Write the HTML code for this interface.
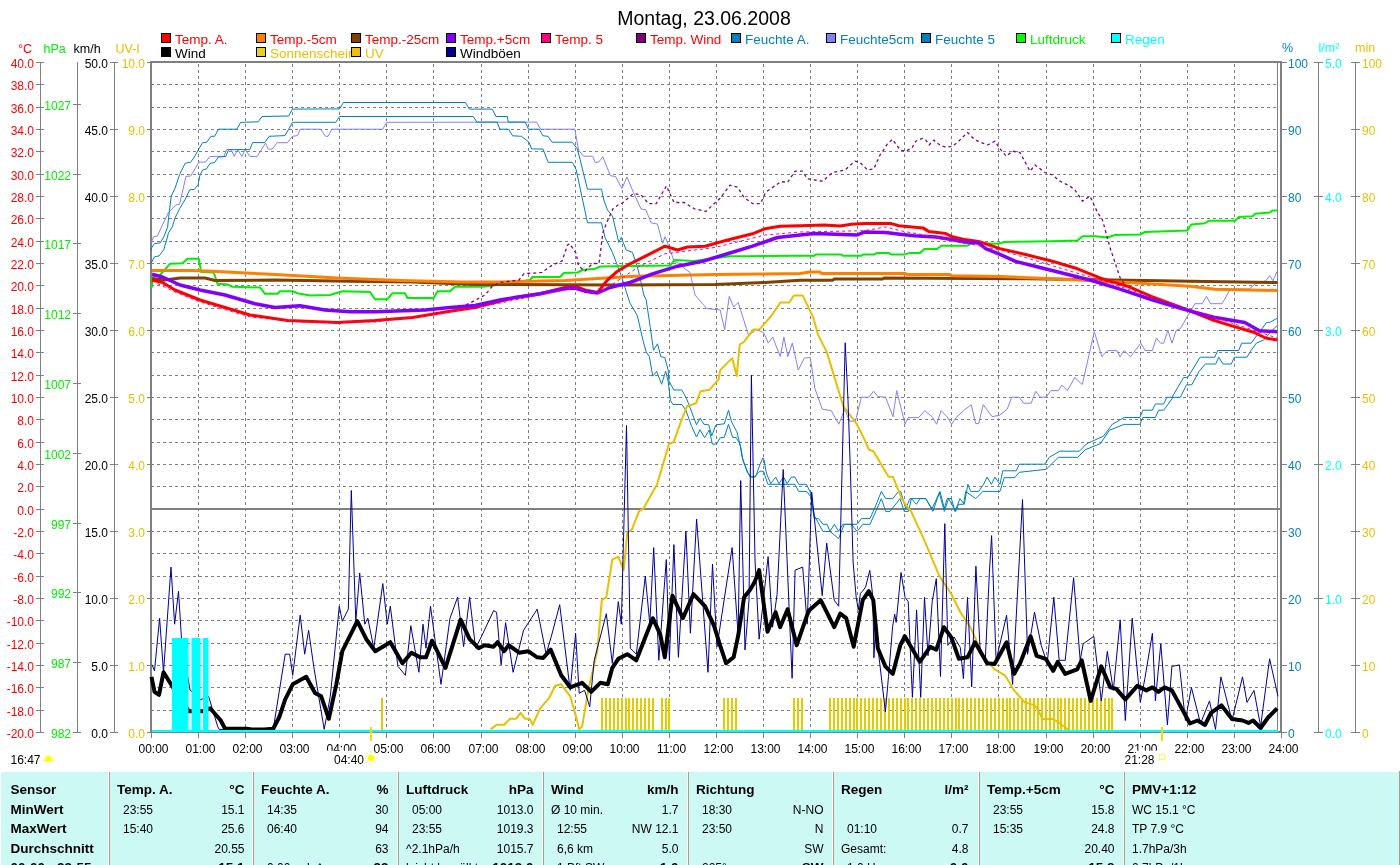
<!DOCTYPE html>
<html><head><meta charset="utf-8"><style>
html,body{margin:0;padding:0;background:#fff;overflow:hidden;}
svg{display:block;font-family:'Liberation Sans', sans-serif;will-change:transform;}
</style></head><body>
<svg width="1400" height="865" viewBox="0 0 1400 865">
<rect width="1400" height="865" fill="#fff"/>
<text x="704" y="25" fill="#000" font-size="19.5" text-anchor="middle" font-weight="normal" >Montag, 23.06.2008</text>
<rect x="161.5" y="33.5" width="9" height="9" fill="#ff0000" stroke="#000" stroke-width="1"/>
<text x="175" y="43.5" fill="#ff0000" font-size="13.5" text-anchor="start" font-weight="normal" >Temp. A.</text>
<rect x="256.5" y="33.5" width="9" height="9" fill="#ff8000" stroke="#000" stroke-width="1"/>
<text x="270" y="43.5" fill="#ff0000" font-size="13.5" text-anchor="start" font-weight="normal" >Temp.-5cm</text>
<rect x="351.5" y="33.5" width="9" height="9" fill="#804000" stroke="#000" stroke-width="1"/>
<text x="365" y="43.5" fill="#ff0000" font-size="13.5" text-anchor="start" font-weight="normal" >Temp.-25cm</text>
<rect x="446.5" y="33.5" width="9" height="9" fill="#8000ff" stroke="#000" stroke-width="1"/>
<text x="460" y="43.5" fill="#ff0000" font-size="13.5" text-anchor="start" font-weight="normal" >Temp.+5cm</text>
<rect x="541.5" y="33.5" width="9" height="9" fill="#ff0080" stroke="#000" stroke-width="1"/>
<text x="555" y="43.5" fill="#ff0000" font-size="13.5" text-anchor="start" font-weight="normal" >Temp. 5</text>
<rect x="636.5" y="33.5" width="9" height="9" fill="#800080" stroke="#000" stroke-width="1"/>
<text x="650" y="43.5" fill="#ff0000" font-size="13.5" text-anchor="start" font-weight="normal" >Temp. Wind</text>
<rect x="731.5" y="33.5" width="9" height="9" fill="#0080c0" stroke="#000" stroke-width="1"/>
<text x="745" y="43.5" fill="#0080c0" font-size="13.5" text-anchor="start" font-weight="normal" >Feuchte A.</text>
<rect x="826.5" y="33.5" width="9" height="9" fill="#8080ff" stroke="#000" stroke-width="1"/>
<text x="840" y="43.5" fill="#0080c0" font-size="13.5" text-anchor="start" font-weight="normal" >Feuchte5cm</text>
<rect x="921.5" y="33.5" width="9" height="9" fill="#0080c0" stroke="#000" stroke-width="1"/>
<text x="935" y="43.5" fill="#0080c0" font-size="13.5" text-anchor="start" font-weight="normal" >Feuchte 5</text>
<rect x="1016.5" y="33.5" width="9" height="9" fill="#00ff00" stroke="#000" stroke-width="1"/>
<text x="1030" y="43.5" fill="#00ee00" font-size="13.5" text-anchor="start" font-weight="normal" >Luftdruck</text>
<rect x="1111.5" y="33.5" width="9" height="9" fill="#00ffff" stroke="#000" stroke-width="1"/>
<text x="1125" y="43.5" fill="#00ffff" font-size="13.5" text-anchor="start" font-weight="normal" >Regen</text>
<rect x="161.5" y="47.5" width="9" height="9" fill="#000000" stroke="#000" stroke-width="1"/>
<text x="175" y="57.5" fill="#000" font-size="13.5" text-anchor="start" font-weight="normal" >Wind</text>
<rect x="256.5" y="47.5" width="9" height="9" fill="#e8d020" stroke="#000" stroke-width="1"/>
<text x="270" y="57.5" fill="#e8c000" font-size="13.5" text-anchor="start" font-weight="normal" >Sonnenschein</text>
<rect x="351.5" y="47.5" width="9" height="9" fill="#f0c000" stroke="#000" stroke-width="1"/>
<text x="365" y="57.5" fill="#e8c000" font-size="13.5" text-anchor="start" font-weight="normal" >UV</text>
<rect x="446.5" y="47.5" width="9" height="9" fill="#000099" stroke="#000" stroke-width="1"/>
<text x="460" y="57.5" fill="#000" font-size="13.5" text-anchor="start" font-weight="normal" >Windböen</text>
<text x="18" y="53" fill="#ff0000" font-size="12.5" text-anchor="start" font-weight="normal" >°C</text>
<text x="43.5" y="53" fill="#00ee00" font-size="12.5" text-anchor="start" font-weight="normal" >hPa</text>
<text x="73.5" y="53" fill="#000" font-size="12.5" text-anchor="start" font-weight="normal" >km/h</text>
<text x="115.5" y="53" fill="#e8c000" font-size="12.5" text-anchor="start" font-weight="normal" >UV-I</text>
<text x="1282" y="52" fill="#0080c0" font-size="12.5" text-anchor="start" font-weight="normal" >%</text>
<text x="1318.5" y="52" fill="#00ffff" font-size="12.5" text-anchor="start" font-weight="normal" >l/m²</text>
<text x="1355" y="52" fill="#e8c000" font-size="12.5" text-anchor="start" font-weight="normal" >min</text>
<g shape-rendering="crispEdges">
<line x1="152" y1="84.5" x2="1278" y2="84.5" stroke="#808080" stroke-width="1" stroke-dasharray="3,3" stroke-dashoffset="1"/>
<line x1="152" y1="107.5" x2="1278" y2="107.5" stroke="#808080" stroke-width="1" stroke-dasharray="3,3" stroke-dashoffset="1"/>
<line x1="152" y1="129.5" x2="1278" y2="129.5" stroke="#808080" stroke-width="1" stroke-dasharray="3,3" stroke-dashoffset="1"/>
<line x1="152" y1="151.5" x2="1278" y2="151.5" stroke="#808080" stroke-width="1" stroke-dasharray="3,3" stroke-dashoffset="1"/>
<line x1="152" y1="174.5" x2="1278" y2="174.5" stroke="#808080" stroke-width="1" stroke-dasharray="3,3" stroke-dashoffset="1"/>
<line x1="152" y1="196.5" x2="1278" y2="196.5" stroke="#808080" stroke-width="1" stroke-dasharray="3,3" stroke-dashoffset="1"/>
<line x1="152" y1="218.5" x2="1278" y2="218.5" stroke="#808080" stroke-width="1" stroke-dasharray="3,3" stroke-dashoffset="1"/>
<line x1="152" y1="241.5" x2="1278" y2="241.5" stroke="#808080" stroke-width="1" stroke-dasharray="3,3" stroke-dashoffset="1"/>
<line x1="152" y1="263.5" x2="1278" y2="263.5" stroke="#808080" stroke-width="1" stroke-dasharray="3,3" stroke-dashoffset="1"/>
<line x1="152" y1="285.5" x2="1278" y2="285.5" stroke="#808080" stroke-width="1" stroke-dasharray="3,3" stroke-dashoffset="1"/>
<line x1="152" y1="308.5" x2="1278" y2="308.5" stroke="#808080" stroke-width="1" stroke-dasharray="3,3" stroke-dashoffset="1"/>
<line x1="152" y1="330.5" x2="1278" y2="330.5" stroke="#808080" stroke-width="1" stroke-dasharray="3,3" stroke-dashoffset="1"/>
<line x1="152" y1="352.5" x2="1278" y2="352.5" stroke="#808080" stroke-width="1" stroke-dasharray="3,3" stroke-dashoffset="1"/>
<line x1="152" y1="375.5" x2="1278" y2="375.5" stroke="#808080" stroke-width="1" stroke-dasharray="3,3" stroke-dashoffset="1"/>
<line x1="152" y1="397.5" x2="1278" y2="397.5" stroke="#808080" stroke-width="1" stroke-dasharray="3,3" stroke-dashoffset="1"/>
<line x1="152" y1="419.5" x2="1278" y2="419.5" stroke="#808080" stroke-width="1" stroke-dasharray="3,3" stroke-dashoffset="1"/>
<line x1="152" y1="442.5" x2="1278" y2="442.5" stroke="#808080" stroke-width="1" stroke-dasharray="3,3" stroke-dashoffset="1"/>
<line x1="152" y1="464.5" x2="1278" y2="464.5" stroke="#808080" stroke-width="1" stroke-dasharray="3,3" stroke-dashoffset="1"/>
<line x1="152" y1="486.5" x2="1278" y2="486.5" stroke="#808080" stroke-width="1" stroke-dasharray="3,3" stroke-dashoffset="1"/>
<line x1="152" y1="509.5" x2="1278" y2="509.5" stroke="#808080" stroke-width="1" stroke-dasharray="3,3" stroke-dashoffset="1"/>
<line x1="152" y1="531.5" x2="1278" y2="531.5" stroke="#808080" stroke-width="1" stroke-dasharray="3,3" stroke-dashoffset="1"/>
<line x1="152" y1="553.5" x2="1278" y2="553.5" stroke="#808080" stroke-width="1" stroke-dasharray="3,3" stroke-dashoffset="1"/>
<line x1="152" y1="576.5" x2="1278" y2="576.5" stroke="#808080" stroke-width="1" stroke-dasharray="3,3" stroke-dashoffset="1"/>
<line x1="152" y1="598.5" x2="1278" y2="598.5" stroke="#808080" stroke-width="1" stroke-dasharray="3,3" stroke-dashoffset="1"/>
<line x1="152" y1="620.5" x2="1278" y2="620.5" stroke="#808080" stroke-width="1" stroke-dasharray="3,3" stroke-dashoffset="1"/>
<line x1="152" y1="643.5" x2="1278" y2="643.5" stroke="#808080" stroke-width="1" stroke-dasharray="3,3" stroke-dashoffset="1"/>
<line x1="152" y1="665.5" x2="1278" y2="665.5" stroke="#808080" stroke-width="1" stroke-dasharray="3,3" stroke-dashoffset="1"/>
<line x1="152" y1="687.5" x2="1278" y2="687.5" stroke="#808080" stroke-width="1" stroke-dasharray="3,3" stroke-dashoffset="1"/>
<line x1="152" y1="710.5" x2="1278" y2="710.5" stroke="#808080" stroke-width="1" stroke-dasharray="3,3" stroke-dashoffset="1"/>
<line x1="198.5" y1="64" x2="198.5" y2="731" stroke="#808080" stroke-width="1" stroke-dasharray="3,3"/>
<line x1="245.5" y1="64" x2="245.5" y2="731" stroke="#808080" stroke-width="1" stroke-dasharray="3,3"/>
<line x1="292.5" y1="64" x2="292.5" y2="731" stroke="#808080" stroke-width="1" stroke-dasharray="3,3"/>
<line x1="339.5" y1="64" x2="339.5" y2="731" stroke="#808080" stroke-width="1" stroke-dasharray="3,3"/>
<line x1="386.5" y1="64" x2="386.5" y2="731" stroke="#808080" stroke-width="1" stroke-dasharray="3,3"/>
<line x1="433.5" y1="64" x2="433.5" y2="731" stroke="#808080" stroke-width="1" stroke-dasharray="3,3"/>
<line x1="481.5" y1="64" x2="481.5" y2="731" stroke="#808080" stroke-width="1" stroke-dasharray="3,3"/>
<line x1="528.5" y1="64" x2="528.5" y2="731" stroke="#808080" stroke-width="1" stroke-dasharray="3,3"/>
<line x1="575.5" y1="64" x2="575.5" y2="731" stroke="#808080" stroke-width="1" stroke-dasharray="3,3"/>
<line x1="622.5" y1="64" x2="622.5" y2="731" stroke="#808080" stroke-width="1" stroke-dasharray="3,3"/>
<line x1="669.5" y1="64" x2="669.5" y2="731" stroke="#808080" stroke-width="1" stroke-dasharray="3,3"/>
<line x1="716.5" y1="64" x2="716.5" y2="731" stroke="#808080" stroke-width="1" stroke-dasharray="3,3"/>
<line x1="763.5" y1="64" x2="763.5" y2="731" stroke="#808080" stroke-width="1" stroke-dasharray="3,3"/>
<line x1="810.5" y1="64" x2="810.5" y2="731" stroke="#808080" stroke-width="1" stroke-dasharray="3,3"/>
<line x1="857.5" y1="64" x2="857.5" y2="731" stroke="#808080" stroke-width="1" stroke-dasharray="3,3"/>
<line x1="904.5" y1="64" x2="904.5" y2="731" stroke="#808080" stroke-width="1" stroke-dasharray="3,3"/>
<line x1="951.5" y1="64" x2="951.5" y2="731" stroke="#808080" stroke-width="1" stroke-dasharray="3,3"/>
<line x1="998.5" y1="64" x2="998.5" y2="731" stroke="#808080" stroke-width="1" stroke-dasharray="3,3"/>
<line x1="1046.5" y1="64" x2="1046.5" y2="731" stroke="#808080" stroke-width="1" stroke-dasharray="3,3"/>
<line x1="1093.5" y1="64" x2="1093.5" y2="731" stroke="#808080" stroke-width="1" stroke-dasharray="3,3"/>
<line x1="1140.5" y1="64" x2="1140.5" y2="731" stroke="#808080" stroke-width="1" stroke-dasharray="3,3"/>
<line x1="1187.5" y1="64" x2="1187.5" y2="731" stroke="#808080" stroke-width="1" stroke-dasharray="3,3"/>
<line x1="1234.5" y1="64" x2="1234.5" y2="731" stroke="#808080" stroke-width="1" stroke-dasharray="3,3"/>
<rect x="152" y="508" width="1128" height="2" fill="#808080"/>
<rect x="150" y="61" width="1132" height="2" fill="#808080"/>
<rect x="150" y="61" width="2" height="672" fill="#808080"/>
<rect x="1280" y="61" width="2" height="672" fill="#808080"/>
<rect x="150" y="731" width="1132" height="2" fill="#808080"/>
<rect x="1277" y="63" width="1" height="668" fill="#808080"/>
<rect x="40" y="62" width="1" height="671" fill="#808080"/>
<rect x="77" y="62" width="1" height="671" fill="#808080"/>
<rect x="114" y="62" width="1" height="671" fill="#808080"/>
<rect x="1318" y="62" width="1" height="671" fill="#808080"/>
<rect x="1355" y="62" width="1" height="671" fill="#808080"/>
<rect x="36" y="62" width="8" height="1" fill="#808080"/>
<rect x="36" y="84" width="8" height="1" fill="#808080"/>
<rect x="36" y="107" width="8" height="1" fill="#808080"/>
<rect x="36" y="129" width="8" height="1" fill="#808080"/>
<rect x="36" y="151" width="8" height="1" fill="#808080"/>
<rect x="36" y="174" width="8" height="1" fill="#808080"/>
<rect x="36" y="196" width="8" height="1" fill="#808080"/>
<rect x="36" y="218" width="8" height="1" fill="#808080"/>
<rect x="36" y="241" width="8" height="1" fill="#808080"/>
<rect x="36" y="263" width="8" height="1" fill="#808080"/>
<rect x="36" y="285" width="8" height="1" fill="#808080"/>
<rect x="36" y="308" width="8" height="1" fill="#808080"/>
<rect x="36" y="330" width="8" height="1" fill="#808080"/>
<rect x="36" y="352" width="8" height="1" fill="#808080"/>
<rect x="36" y="375" width="8" height="1" fill="#808080"/>
<rect x="36" y="397" width="8" height="1" fill="#808080"/>
<rect x="36" y="419" width="8" height="1" fill="#808080"/>
<rect x="36" y="442" width="8" height="1" fill="#808080"/>
<rect x="36" y="464" width="8" height="1" fill="#808080"/>
<rect x="36" y="486" width="8" height="1" fill="#808080"/>
<rect x="36" y="509" width="8" height="1" fill="#808080"/>
<rect x="36" y="531" width="8" height="1" fill="#808080"/>
<rect x="36" y="553" width="8" height="1" fill="#808080"/>
<rect x="36" y="576" width="8" height="1" fill="#808080"/>
<rect x="36" y="598" width="8" height="1" fill="#808080"/>
<rect x="36" y="620" width="8" height="1" fill="#808080"/>
<rect x="36" y="643" width="8" height="1" fill="#808080"/>
<rect x="36" y="665" width="8" height="1" fill="#808080"/>
<rect x="36" y="687" width="8" height="1" fill="#808080"/>
<rect x="36" y="710" width="8" height="1" fill="#808080"/>
<rect x="36" y="732" width="8" height="1" fill="#808080"/>
<rect x="73" y="732" width="8" height="1" fill="#808080"/>
<rect x="73" y="662" width="8" height="1" fill="#808080"/>
<rect x="73" y="592" width="8" height="1" fill="#808080"/>
<rect x="73" y="523" width="8" height="1" fill="#808080"/>
<rect x="73" y="453" width="8" height="1" fill="#808080"/>
<rect x="73" y="383" width="8" height="1" fill="#808080"/>
<rect x="73" y="313" width="8" height="1" fill="#808080"/>
<rect x="73" y="243" width="8" height="1" fill="#808080"/>
<rect x="73" y="174" width="8" height="1" fill="#808080"/>
<rect x="73" y="104" width="8" height="1" fill="#808080"/>
<rect x="110" y="62" width="8" height="1" fill="#808080"/>
<rect x="147" y="62" width="4" height="1" fill="#808080"/>
<rect x="1282" y="62" width="5" height="1" fill="#808080"/>
<rect x="1351" y="62" width="9" height="1" fill="#808080"/>
<rect x="110" y="129" width="8" height="1" fill="#808080"/>
<rect x="147" y="129" width="4" height="1" fill="#808080"/>
<rect x="1282" y="129" width="5" height="1" fill="#808080"/>
<rect x="1351" y="129" width="9" height="1" fill="#808080"/>
<rect x="110" y="196" width="8" height="1" fill="#808080"/>
<rect x="147" y="196" width="4" height="1" fill="#808080"/>
<rect x="1282" y="196" width="5" height="1" fill="#808080"/>
<rect x="1351" y="196" width="9" height="1" fill="#808080"/>
<rect x="110" y="263" width="8" height="1" fill="#808080"/>
<rect x="147" y="263" width="4" height="1" fill="#808080"/>
<rect x="1282" y="263" width="5" height="1" fill="#808080"/>
<rect x="1351" y="263" width="9" height="1" fill="#808080"/>
<rect x="110" y="330" width="8" height="1" fill="#808080"/>
<rect x="147" y="330" width="4" height="1" fill="#808080"/>
<rect x="1282" y="330" width="5" height="1" fill="#808080"/>
<rect x="1351" y="330" width="9" height="1" fill="#808080"/>
<rect x="110" y="397" width="8" height="1" fill="#808080"/>
<rect x="147" y="397" width="4" height="1" fill="#808080"/>
<rect x="1282" y="397" width="5" height="1" fill="#808080"/>
<rect x="1351" y="397" width="9" height="1" fill="#808080"/>
<rect x="110" y="464" width="8" height="1" fill="#808080"/>
<rect x="147" y="464" width="4" height="1" fill="#808080"/>
<rect x="1282" y="464" width="5" height="1" fill="#808080"/>
<rect x="1351" y="464" width="9" height="1" fill="#808080"/>
<rect x="110" y="531" width="8" height="1" fill="#808080"/>
<rect x="147" y="531" width="4" height="1" fill="#808080"/>
<rect x="1282" y="531" width="5" height="1" fill="#808080"/>
<rect x="1351" y="531" width="9" height="1" fill="#808080"/>
<rect x="110" y="598" width="8" height="1" fill="#808080"/>
<rect x="147" y="598" width="4" height="1" fill="#808080"/>
<rect x="1282" y="598" width="5" height="1" fill="#808080"/>
<rect x="1351" y="598" width="9" height="1" fill="#808080"/>
<rect x="110" y="665" width="8" height="1" fill="#808080"/>
<rect x="147" y="665" width="4" height="1" fill="#808080"/>
<rect x="1282" y="665" width="5" height="1" fill="#808080"/>
<rect x="1351" y="665" width="9" height="1" fill="#808080"/>
<rect x="110" y="732" width="8" height="1" fill="#808080"/>
<rect x="147" y="732" width="4" height="1" fill="#808080"/>
<rect x="1282" y="732" width="5" height="1" fill="#808080"/>
<rect x="1351" y="732" width="9" height="1" fill="#808080"/>
<rect x="1314" y="62" width="9" height="1" fill="#808080"/>
<rect x="1314" y="196" width="9" height="1" fill="#808080"/>
<rect x="1314" y="330" width="9" height="1" fill="#808080"/>
<rect x="1314" y="464" width="9" height="1" fill="#808080"/>
<rect x="1314" y="598" width="9" height="1" fill="#808080"/>
<rect x="1314" y="732" width="9" height="1" fill="#808080"/>
<rect x="151" y="733" width="1" height="5" fill="#808080"/>
<rect x="198" y="733" width="1" height="5" fill="#808080"/>
<rect x="245" y="733" width="1" height="5" fill="#808080"/>
<rect x="292" y="733" width="1" height="5" fill="#808080"/>
<rect x="339" y="733" width="1" height="5" fill="#808080"/>
<rect x="386" y="733" width="1" height="5" fill="#808080"/>
<rect x="433" y="733" width="1" height="5" fill="#808080"/>
<rect x="481" y="733" width="1" height="5" fill="#808080"/>
<rect x="528" y="733" width="1" height="5" fill="#808080"/>
<rect x="575" y="733" width="1" height="5" fill="#808080"/>
<rect x="622" y="733" width="1" height="5" fill="#808080"/>
<rect x="669" y="733" width="1" height="5" fill="#808080"/>
<rect x="716" y="733" width="1" height="5" fill="#808080"/>
<rect x="763" y="733" width="1" height="5" fill="#808080"/>
<rect x="810" y="733" width="1" height="5" fill="#808080"/>
<rect x="857" y="733" width="1" height="5" fill="#808080"/>
<rect x="904" y="733" width="1" height="5" fill="#808080"/>
<rect x="951" y="733" width="1" height="5" fill="#808080"/>
<rect x="998" y="733" width="1" height="5" fill="#808080"/>
<rect x="1046" y="733" width="1" height="5" fill="#808080"/>
<rect x="1093" y="733" width="1" height="5" fill="#808080"/>
<rect x="1140" y="733" width="1" height="5" fill="#808080"/>
<rect x="1187" y="733" width="1" height="5" fill="#808080"/>
<rect x="1234" y="733" width="1" height="5" fill="#808080"/>
<rect x="1281" y="733" width="1" height="5" fill="#808080"/>
</g>
<text x="34" y="68.0" fill="#ff0000" font-size="12" text-anchor="end" font-weight="normal" >40.0</text>
<text x="34" y="90.33333333333333" fill="#ff0000" font-size="12" text-anchor="end" font-weight="normal" >38.0</text>
<text x="34" y="112.66666666666666" fill="#ff0000" font-size="12" text-anchor="end" font-weight="normal" >36.0</text>
<text x="34" y="135.0" fill="#ff0000" font-size="12" text-anchor="end" font-weight="normal" >34.0</text>
<text x="34" y="157.33333333333331" fill="#ff0000" font-size="12" text-anchor="end" font-weight="normal" >32.0</text>
<text x="34" y="179.66666666666669" fill="#ff0000" font-size="12" text-anchor="end" font-weight="normal" >30.0</text>
<text x="34" y="202.0" fill="#ff0000" font-size="12" text-anchor="end" font-weight="normal" >28.0</text>
<text x="34" y="224.33333333333334" fill="#ff0000" font-size="12" text-anchor="end" font-weight="normal" >26.0</text>
<text x="34" y="246.66666666666666" fill="#ff0000" font-size="12" text-anchor="end" font-weight="normal" >24.0</text>
<text x="34" y="269.0" fill="#ff0000" font-size="12" text-anchor="end" font-weight="normal" >22.0</text>
<text x="34" y="291.33333333333337" fill="#ff0000" font-size="12" text-anchor="end" font-weight="normal" >20.0</text>
<text x="34" y="313.66666666666663" fill="#ff0000" font-size="12" text-anchor="end" font-weight="normal" >18.0</text>
<text x="34" y="336.0" fill="#ff0000" font-size="12" text-anchor="end" font-weight="normal" >16.0</text>
<text x="34" y="358.3333333333333" fill="#ff0000" font-size="12" text-anchor="end" font-weight="normal" >14.0</text>
<text x="34" y="380.6666666666667" fill="#ff0000" font-size="12" text-anchor="end" font-weight="normal" >12.0</text>
<text x="34" y="403.0" fill="#ff0000" font-size="12" text-anchor="end" font-weight="normal" >10.0</text>
<text x="34" y="425.3333333333333" fill="#ff0000" font-size="12" text-anchor="end" font-weight="normal" >8.0</text>
<text x="34" y="447.6666666666667" fill="#ff0000" font-size="12" text-anchor="end" font-weight="normal" >6.0</text>
<text x="34" y="470.0" fill="#ff0000" font-size="12" text-anchor="end" font-weight="normal" >4.0</text>
<text x="34" y="492.3333333333333" fill="#ff0000" font-size="12" text-anchor="end" font-weight="normal" >2.0</text>
<text x="34" y="514.6666666666667" fill="#ff0000" font-size="12" text-anchor="end" font-weight="normal" >0.0</text>
<text x="34" y="537.0" fill="#ff0000" font-size="12" text-anchor="end" font-weight="normal" >-2.0</text>
<text x="34" y="559.3333333333333" fill="#ff0000" font-size="12" text-anchor="end" font-weight="normal" >-4.0</text>
<text x="34" y="581.6666666666666" fill="#ff0000" font-size="12" text-anchor="end" font-weight="normal" >-6.0</text>
<text x="34" y="604.0" fill="#ff0000" font-size="12" text-anchor="end" font-weight="normal" >-8.0</text>
<text x="34" y="626.3333333333334" fill="#ff0000" font-size="12" text-anchor="end" font-weight="normal" >-10.0</text>
<text x="34" y="648.6666666666666" fill="#ff0000" font-size="12" text-anchor="end" font-weight="normal" >-12.0</text>
<text x="34" y="671.0" fill="#ff0000" font-size="12" text-anchor="end" font-weight="normal" >-14.0</text>
<text x="34" y="693.3333333333334" fill="#ff0000" font-size="12" text-anchor="end" font-weight="normal" >-16.0</text>
<text x="34" y="715.6666666666666" fill="#ff0000" font-size="12" text-anchor="end" font-weight="normal" >-18.0</text>
<text x="34" y="738.0" fill="#ff0000" font-size="12" text-anchor="end" font-weight="normal" >-20.0</text>
<text x="71" y="738.0" fill="#00ee00" font-size="12" text-anchor="end" font-weight="normal" >982</text>
<text x="71" y="668.2083333333334" fill="#00ee00" font-size="12" text-anchor="end" font-weight="normal" >987</text>
<text x="71" y="598.4166666666666" fill="#00ee00" font-size="12" text-anchor="end" font-weight="normal" >992</text>
<text x="71" y="528.625" fill="#00ee00" font-size="12" text-anchor="end" font-weight="normal" >997</text>
<text x="71" y="458.8333333333333" fill="#00ee00" font-size="12" text-anchor="end" font-weight="normal" >1002</text>
<text x="71" y="389.0416666666667" fill="#00ee00" font-size="12" text-anchor="end" font-weight="normal" >1007</text>
<text x="71" y="319.25" fill="#00ee00" font-size="12" text-anchor="end" font-weight="normal" >1012</text>
<text x="71" y="249.45833333333331" fill="#00ee00" font-size="12" text-anchor="end" font-weight="normal" >1017</text>
<text x="71" y="179.66666666666663" fill="#00ee00" font-size="12" text-anchor="end" font-weight="normal" >1022</text>
<text x="71" y="109.875" fill="#00ee00" font-size="12" text-anchor="end" font-weight="normal" >1027</text>
<text x="108" y="68.0" fill="#000" font-size="12" text-anchor="end" font-weight="normal" >50.0</text>
<text x="145" y="68.0" fill="#e8c000" font-size="12" text-anchor="end" font-weight="normal" >10.0</text>
<text x="1288" y="68.0" fill="#0080c0" font-size="12" text-anchor="start" font-weight="normal" >100</text>
<text x="1362" y="68.0" fill="#e8c000" font-size="12" text-anchor="start" font-weight="normal" >100</text>
<text x="108" y="135.0" fill="#000" font-size="12" text-anchor="end" font-weight="normal" >45.0</text>
<text x="145" y="135.0" fill="#e8c000" font-size="12" text-anchor="end" font-weight="normal" >9.0</text>
<text x="1288" y="135.0" fill="#0080c0" font-size="12" text-anchor="start" font-weight="normal" >90</text>
<text x="1362" y="135.0" fill="#e8c000" font-size="12" text-anchor="start" font-weight="normal" >90</text>
<text x="108" y="202.0" fill="#000" font-size="12" text-anchor="end" font-weight="normal" >40.0</text>
<text x="145" y="202.0" fill="#e8c000" font-size="12" text-anchor="end" font-weight="normal" >8.0</text>
<text x="1288" y="202.0" fill="#0080c0" font-size="12" text-anchor="start" font-weight="normal" >80</text>
<text x="1362" y="202.0" fill="#e8c000" font-size="12" text-anchor="start" font-weight="normal" >80</text>
<text x="108" y="269.0" fill="#000" font-size="12" text-anchor="end" font-weight="normal" >35.0</text>
<text x="145" y="269.0" fill="#e8c000" font-size="12" text-anchor="end" font-weight="normal" >7.0</text>
<text x="1288" y="269.0" fill="#0080c0" font-size="12" text-anchor="start" font-weight="normal" >70</text>
<text x="1362" y="269.0" fill="#e8c000" font-size="12" text-anchor="start" font-weight="normal" >70</text>
<text x="108" y="336.0" fill="#000" font-size="12" text-anchor="end" font-weight="normal" >30.0</text>
<text x="145" y="336.0" fill="#e8c000" font-size="12" text-anchor="end" font-weight="normal" >6.0</text>
<text x="1288" y="336.0" fill="#0080c0" font-size="12" text-anchor="start" font-weight="normal" >60</text>
<text x="1362" y="336.0" fill="#e8c000" font-size="12" text-anchor="start" font-weight="normal" >60</text>
<text x="108" y="403.0" fill="#000" font-size="12" text-anchor="end" font-weight="normal" >25.0</text>
<text x="145" y="403.0" fill="#e8c000" font-size="12" text-anchor="end" font-weight="normal" >5.0</text>
<text x="1288" y="403.0" fill="#0080c0" font-size="12" text-anchor="start" font-weight="normal" >50</text>
<text x="1362" y="403.0" fill="#e8c000" font-size="12" text-anchor="start" font-weight="normal" >50</text>
<text x="108" y="470.0" fill="#000" font-size="12" text-anchor="end" font-weight="normal" >20.0</text>
<text x="145" y="470.0" fill="#e8c000" font-size="12" text-anchor="end" font-weight="normal" >4.0</text>
<text x="1288" y="470.0" fill="#0080c0" font-size="12" text-anchor="start" font-weight="normal" >40</text>
<text x="1362" y="470.0" fill="#e8c000" font-size="12" text-anchor="start" font-weight="normal" >40</text>
<text x="108" y="537.0" fill="#000" font-size="12" text-anchor="end" font-weight="normal" >15.0</text>
<text x="145" y="537.0" fill="#e8c000" font-size="12" text-anchor="end" font-weight="normal" >3.0</text>
<text x="1288" y="537.0" fill="#0080c0" font-size="12" text-anchor="start" font-weight="normal" >30</text>
<text x="1362" y="537.0" fill="#e8c000" font-size="12" text-anchor="start" font-weight="normal" >30</text>
<text x="108" y="604.0" fill="#000" font-size="12" text-anchor="end" font-weight="normal" >10.0</text>
<text x="145" y="604.0" fill="#e8c000" font-size="12" text-anchor="end" font-weight="normal" >2.0</text>
<text x="1288" y="604.0" fill="#0080c0" font-size="12" text-anchor="start" font-weight="normal" >20</text>
<text x="1362" y="604.0" fill="#e8c000" font-size="12" text-anchor="start" font-weight="normal" >20</text>
<text x="108" y="671.0" fill="#000" font-size="12" text-anchor="end" font-weight="normal" >5.0</text>
<text x="145" y="671.0" fill="#e8c000" font-size="12" text-anchor="end" font-weight="normal" >1.0</text>
<text x="1288" y="671.0" fill="#0080c0" font-size="12" text-anchor="start" font-weight="normal" >10</text>
<text x="1362" y="671.0" fill="#e8c000" font-size="12" text-anchor="start" font-weight="normal" >10</text>
<text x="108" y="738.0" fill="#000" font-size="12" text-anchor="end" font-weight="normal" >0.0</text>
<text x="145" y="738.0" fill="#e8c000" font-size="12" text-anchor="end" font-weight="normal" >0.0</text>
<text x="1288" y="738.0" fill="#0080c0" font-size="12" text-anchor="start" font-weight="normal" >0</text>
<text x="1362" y="738.0" fill="#e8c000" font-size="12" text-anchor="start" font-weight="normal" >0</text>
<text x="1325" y="68.0" fill="#00ffff" font-size="12" text-anchor="start" font-weight="normal" >5.0</text>
<text x="1325" y="202.0" fill="#00ffff" font-size="12" text-anchor="start" font-weight="normal" >4.0</text>
<text x="1325" y="336.0" fill="#00ffff" font-size="12" text-anchor="start" font-weight="normal" >3.0</text>
<text x="1325" y="470.0" fill="#00ffff" font-size="12" text-anchor="start" font-weight="normal" >2.0</text>
<text x="1325" y="604.0" fill="#00ffff" font-size="12" text-anchor="start" font-weight="normal" >1.0</text>
<text x="1325" y="738.0" fill="#00ffff" font-size="12" text-anchor="start" font-weight="normal" >0.0</text>
<text x="153.5" y="752.5" fill="#000" font-size="12" text-anchor="middle" font-weight="normal" >00:00</text>
<text x="200.5" y="752.5" fill="#000" font-size="12" text-anchor="middle" font-weight="normal" >01:00</text>
<text x="247.5" y="752.5" fill="#000" font-size="12" text-anchor="middle" font-weight="normal" >02:00</text>
<text x="294.5" y="752.5" fill="#000" font-size="12" text-anchor="middle" font-weight="normal" >03:00</text>
<text x="341.5" y="752.5" fill="#000" font-size="12" text-anchor="middle" font-weight="normal" >04:00</text>
<text x="388.5" y="752.5" fill="#000" font-size="12" text-anchor="middle" font-weight="normal" >05:00</text>
<text x="435.5" y="752.5" fill="#000" font-size="12" text-anchor="middle" font-weight="normal" >06:00</text>
<text x="483.5" y="752.5" fill="#000" font-size="12" text-anchor="middle" font-weight="normal" >07:00</text>
<text x="530.5" y="752.5" fill="#000" font-size="12" text-anchor="middle" font-weight="normal" >08:00</text>
<text x="577.5" y="752.5" fill="#000" font-size="12" text-anchor="middle" font-weight="normal" >09:00</text>
<text x="624.5" y="752.5" fill="#000" font-size="12" text-anchor="middle" font-weight="normal" >10:00</text>
<text x="671.5" y="752.5" fill="#000" font-size="12" text-anchor="middle" font-weight="normal" >11:00</text>
<text x="718.5" y="752.5" fill="#000" font-size="12" text-anchor="middle" font-weight="normal" >12:00</text>
<text x="765.5" y="752.5" fill="#000" font-size="12" text-anchor="middle" font-weight="normal" >13:00</text>
<text x="812.5" y="752.5" fill="#000" font-size="12" text-anchor="middle" font-weight="normal" >14:00</text>
<text x="859.5" y="752.5" fill="#000" font-size="12" text-anchor="middle" font-weight="normal" >15:00</text>
<text x="906.5" y="752.5" fill="#000" font-size="12" text-anchor="middle" font-weight="normal" >16:00</text>
<text x="953.5" y="752.5" fill="#000" font-size="12" text-anchor="middle" font-weight="normal" >17:00</text>
<text x="1000.5" y="752.5" fill="#000" font-size="12" text-anchor="middle" font-weight="normal" >18:00</text>
<text x="1048.5" y="752.5" fill="#000" font-size="12" text-anchor="middle" font-weight="normal" >19:00</text>
<text x="1095.5" y="752.5" fill="#000" font-size="12" text-anchor="middle" font-weight="normal" >20:00</text>
<text x="1142.5" y="752.5" fill="#000" font-size="12" text-anchor="middle" font-weight="normal" >21:00</text>
<text x="1189.5" y="752.5" fill="#000" font-size="12" text-anchor="middle" font-weight="normal" >22:00</text>
<text x="1236.5" y="752.5" fill="#000" font-size="12" text-anchor="middle" font-weight="normal" >23:00</text>
<text x="1283.5" y="752.5" fill="#000" font-size="12" text-anchor="middle" font-weight="normal" >24:00</text>
<rect x="325" y="750.7" width="36" height="3" fill="#fff"/>
<rect x="1136" y="750.7" width="36" height="3" fill="#fff"/>
<path d="M382 698V730 M602 698V730 M606 698V730 M610 698V730 M614 698V730 M618 698V730 M622 698V730 M626 698V730 M629 698V730 M633 698V730 M637 698V730 M641 698V730 M645 698V730 M649 698V730 M653 698V730 M662 698V730 M666 698V730 M669 698V730 M724 698V730 M728 698V730 M732 698V730 M736 698V730 M794 698V730 M798 698V730 M802 698V730 M830 698V730 M834 698V730 M838 698V730 M842 698V730 M846 698V730 M850 698V730 M854 698V730 M857 698V730 M861 698V730 M865 698V730 M869 698V730 M873 698V730 M877 698V730 M881 698V730 M885 698V730 M889 698V730 M893 698V730 M897 698V730 M901 698V730 M905 698V730 M908 698V730 M912 698V730 M916 698V730 M920 698V730 M924 698V730 M928 698V730 M932 698V730 M936 698V730 M940 698V730 M944 698V730 M948 698V730 M952 698V730 M956 698V730 M959 698V730 M963 698V730 M967 698V730 M971 698V730 M975 698V730 M979 698V730 M983 698V730 M987 698V730 M991 698V730 M995 698V730 M999 698V730 M1003 698V730 M1007 698V730 M1010 698V730 M1014 698V730 M1018 698V730 M1022 698V730 M1026 698V730 M1030 698V730 M1034 698V730 M1038 698V730 M1042 698V730 M1046 698V730 M1050 698V730 M1054 698V730 M1058 698V730 M1061 698V730 M1065 698V730 M1069 698V730 M1073 698V730 M1077 698V730 M1081 698V730 M1085 698V730 M1089 698V730 M1093 698V730 M1097 698V730 M1101 698V730 M1105 698V730 M1109 698V730 M1112 698V730" stroke="#e2cc00" stroke-width="2" shape-rendering="crispEdges"/>
<polyline points="151.0,243.0 153.7,236.5 157.4,236.1 163.9,221.7 168.5,212.4 175.9,205.0 179.6,204.1 186.0,176.4 190.7,176.0 199.0,162.1 205.5,162.1 210.1,156.4 223.9,156.4 226.7,149.6 231.3,149.6 234.1,156.4 237.8,149.6 241.9,156.4 245.2,149.6 249.8,156.4 257.2,156.4 265.5,143.1 268.3,149.1 272.1,149.1 277.2,142.7 287.4,142.7 292.5,136.3 297.6,135.6 300.1,129.2 320.5,129.2 325.6,136.3 328.1,136.3 331.9,129.2 382.8,129.2 386.6,122.3 536.7,122.1 540.5,129.2 574.8,129.2 578.6,150.3 583.7,156.2 592.6,156.2 595.2,162.5 599.0,161.8 602.8,156.7 610.4,175.7 615.5,176.5 621.9,188.5 627.0,177.0 633.3,192.3 641.0,208.8 646.0,210.1 651.1,222.8 657.5,224.1 662.6,243.2 665.1,236.8 667.7,243.2 674.0,261.0 679.1,263.5 685.0,268.8 690.0,272.5 695.0,295.0 706.7,308.5 720.2,310.0 724.7,329.6 729.2,296.5 733.7,307.0 738.2,302.5 748.7,335.6 756.2,329.6 763.7,332.6 768.2,343.1 772.7,337.1 780.3,356.6 783.9,337.1 787.8,356.6 792.3,343.1 798.3,370.1 804.3,358.1 810.3,357.5 814.8,388.2 822.3,409.2 831.3,410.7 838.8,424.2 844.9,409.2 849.4,421.2 855.4,421.2 861.4,397.2 868.9,397.2 873.5,391.2 878.0,396.6 885.5,397.2 893.0,416.7 896.7,390.6 905.1,424.2 908.1,417.6 918.6,417.6 924.6,410.7 932.1,416.7 936.6,424.2 941.1,410.7 947.1,416.7 951.6,424.2 956.1,417.6 963.6,410.7 971.2,404.7 975.7,423.6 978.7,423.6 983.2,404.7 992.2,416.7 999.7,415.2 1007.2,409.2 1011.7,397.2 1019.2,397.2 1023.7,403.2 1031.2,403.2 1035.7,391.2 1040.3,397.2 1046.3,397.2 1050.8,390.6 1058.3,390.6 1061.9,385.1 1067.3,390.6 1074.8,377.6 1082.3,384.5 1094.3,331.7 1101.8,356.6 1107.9,350.6 1116.9,350.6 1120.0,356.8 1124.2,350.5 1130.4,356.8 1140.8,343.2 1145.0,350.5 1152.3,350.5 1156.4,338.0 1160.6,343.2 1163.7,343.2 1167.9,330.3 1172.0,343.2 1176.2,330.3 1180.3,328.7 1194.9,303.7 1202.2,303.7 1206.4,296.4 1210.5,303.7 1222.0,303.7 1230.3,289.1 1249.0,289.1 1255.3,283.9 1265.7,280.8 1269.8,275.6 1272.9,280.8 1277.1,271.4" fill="none" stroke="#8080ff" stroke-width="1" stroke-linejoin="round" />
<polyline points="151.0,250.3 151.8,247.5 154.6,243.5 160.2,242.9 163.9,236.5 167.6,227.2 169.4,210.6 171.3,195.8 175.0,188.4 179.6,174.5 185.1,163.4 190.7,162.1 194.4,157.0 199.0,148.7 202.7,142.6 206.4,142.6 211.0,136.3 214.7,136.3 218.4,129.2 236.9,129.2 240.6,122.4 258.1,121.8 262.0,116.5 288.7,116.0 292.5,109.1 339.6,108.9 343.4,102.5 465.5,102.5 469.3,109.1 492.2,109.1 496.0,116.5 507.4,116.5 508.2,122.1 525.2,122.1 528.5,129.2 539.2,129.2 543.0,135.8 548.1,136.3 551.9,142.2 572.3,142.2 577.4,149.0 587.5,189.2 601.5,189.2 603.8,200.0 607.5,210.0 612.5,216.2 618.8,242.5 621.2,237.5 626.2,250.0 632.5,252.5 637.5,267.5 640.0,277.5 643.8,295.0 646.2,300.0 650.3,327.6 653.5,350.2 657.6,343.8 660.8,356.7 664.8,357.5 668.1,369.7 668.9,381.0 673.8,390.0 681.9,390.0 686.7,398.9 691.6,411.8 696.5,424.8 700.0,418.3 704.0,424.3 708.7,424.8 711.8,435.8 716.0,424.8 724.3,423.8 728.5,410.3 731.6,422.2 736.8,431.6 741.0,448.2 743.0,460.7 748.2,473.2 751.4,476.9 755.5,476.9 760.0,464.4 762.9,457.9 764.3,460.7 765.7,470.0 767.1,475.0 770.7,483.6 775.7,477.1 778.9,483.6 783.6,477.1 787.1,483.6 791.4,477.1 795.0,477.1 798.6,484.3 806.4,484.3 810.0,491.4 812.1,505.7 814.3,518.6 818.6,518.6 822.9,524.3 827.1,524.3 830.0,531.4 834.3,524.3 838.6,531.4 842.9,524.3 857.1,524.3 861.4,518.6 870.0,518.6 875.7,505.7 881.4,491.4 885.7,498.6 892.9,498.6 898.6,491.4 900.7,491.4 905.7,508.6 910.0,498.6 925.7,498.6 932.1,508.6 940.0,491.4 944.3,508.6 947.1,498.6 951.4,498.6 955.0,511.4 960.0,498.6 964.3,504.3 967.9,484.3 970.7,491.4 978.6,491.4 983.6,484.3 987.1,477.1 991.4,484.3 995.0,477.1 1000.0,484.3 1002.7,470.8 1016.2,470.8 1019.2,464.2 1044.8,464.2 1049.3,457.3 1059.8,451.2 1079.3,451.2 1086.8,443.7 1103.4,436.2 1112.4,424.2 1124.2,417.5 1139.8,417.5 1142.9,410.2 1152.3,410.2 1155.4,404.0 1163.7,404.0 1166.8,397.3 1172.0,397.3 1183.5,377.6 1187.6,377.6 1200.1,357.2 1214.7,357.2 1217.8,350.5 1238.6,350.5 1241.7,343.2 1251.1,343.2 1257.3,334.9 1266.7,322.4 1269.8,322.4 1277.1,318.3" fill="none" stroke="#0080c0" stroke-width="1" stroke-linejoin="round" />
<polyline points="151.0,263.3 154.6,256.8 159.2,255.9 163.9,249.4 166.6,240.1 168.5,232.8 172.2,227.2 175.0,218.0 179.6,208.7 185.1,199.5 189.7,189.9 194.4,189.3 198.1,184.7 199.9,175.5 202.7,169.9 206.4,169.0 210.1,163.4 214.7,162.5 218.4,157.0 225.8,156.4 228.6,149.6 249.8,149.6 252.6,142.6 264.6,142.6 269.2,136.3 284.9,135.6 288.7,129.2 292.5,122.3 335.8,122.3 339.6,116.5 473.2,116.5 476.9,122.1 497.2,122.1 499.8,129.2 508.7,129.2 512.5,135.8 521.4,136.3 529.0,142.2 531.6,149.0 543.0,149.0 548.1,162.3 572.3,162.3 576.1,169.4 587.5,222.8 601.5,222.8 605.0,237.5 612.5,252.5 621.0,275.0 630.0,303.2 637.3,315.4 639.7,325.9 643.0,340.5 646.2,351.9 649.4,356.7 652.7,376.2 656.7,371.3 661.6,384.3 665.7,371.3 668.1,381.0 670.5,400.5 673.0,404.5 681.9,404.5 685.9,410.2 691.6,426.4 696.5,437.0 700.0,429.7 704.6,437.8 709.2,430.0 712.4,444.1 716.5,444.1 720.2,437.8 724.3,437.3 728.5,424.3 732.6,437.3 736.3,437.8 739.9,444.1 742.0,456.6 747.2,472.2 750.3,476.9 754.5,476.9 760.0,471.1 763.6,471.4 765.0,475.7 767.9,484.3 795.0,484.3 798.6,491.4 806.4,491.4 810.7,496.4 814.3,515.7 822.9,531.4 830.0,531.4 838.6,538.6 844.3,524.3 851.4,524.3 857.1,531.4 862.9,524.3 870.0,524.3 881.4,498.6 885.7,511.4 890.0,511.4 900.0,498.6 904.3,511.4 908.6,511.4 911.4,498.6 916.4,504.3 920.0,498.6 925.7,498.6 932.9,511.4 939.3,492.9 944.3,511.4 948.6,498.6 955.7,511.4 958.6,504.3 963.6,504.3 965.7,491.4 975.7,498.6 982.9,491.4 1000.0,491.4 1004.2,477.7 1014.7,477.7 1019.2,472.3 1046.3,469.3 1058.3,457.3 1077.8,457.3 1085.3,449.7 1100.3,443.7 1109.4,430.2 1124.2,424.4 1139.8,424.4 1142.9,417.5 1155.4,417.5 1158.5,410.2 1163.7,410.2 1173.1,397.3 1180.3,397.3 1186.6,384.8 1191.8,384.8 1199.1,371.3 1205.3,364.0 1215.7,364.0 1218.8,357.2 1223.0,364.0 1231.3,364.0 1234.4,357.2 1246.9,357.2 1251.1,350.5 1256.3,343.2 1263.6,340.1 1271.9,330.7 1277.1,325.5" fill="none" stroke="#0080c0" stroke-width="1" stroke-linejoin="round" />
<polyline points="490.6,729.4 496.6,724.8 504.1,724.8 510.1,718.8 516.1,718.8 520.6,712.8 525.2,718.8 529.7,718.8 532.7,724.8 540.2,708.3 549.2,697.8 555.2,685.8 561.2,684.3 570.2,696.3 576.2,717.3 579.2,729.4 582.2,726.3 588.2,690.3 597.3,651.2 601.8,600.2 606.3,597.2 612.3,559.6 618.3,556.6 623.7,570.1 627.3,532.6 631.8,529.6 639.0,511.3 643.6,508.3 657.1,484.3 669.1,443.7 673.6,442.2 681.1,421.2 687.1,406.2 696.1,403.2 700.6,391.2 709.7,389.7 718.7,379.1 720.2,370.1 732.2,358.1 736.7,376.1 739.7,344.6 744.2,341.6 753.2,329.6 759.2,329.6 771.2,316.0 780.3,302.5 789.3,302.5 793.8,295.6 802.8,295.6 813.3,317.6 817.8,334.1 826.8,352.1 843.3,406.2 856.9,424.2 862.9,436.2 869.0,449.7 873.5,451.2 888.5,476.8 893.0,476.8 902.1,499.3 906.3,505.5 911.1,511.3 924.3,540.1 939.4,576.1 951.4,594.2 960.4,612.2 970.5,627.3 984.0,657.3 994.6,669.4 1005.1,675.4 1014.1,690.4 1024.6,702.4 1035.1,705.4 1042.7,719.0 1053.2,719.0 1062.2,725.0 1068.2,729.5" fill="none" stroke="#e8c000" stroke-width="2" stroke-linejoin="round" />
<polyline points="152.0,664.8 154.5,670.8 159.6,618.2 163.5,672.3 171.0,567.1 174.6,624.2 178.5,591.2 181.5,639.2 190.0,690.0 200.0,700.0 208.6,696.3 217.6,726.3 219.1,729.4 273.2,729.4 285.2,654.2 289.7,654.2 292.7,675.3 300.2,615.2 304.7,654.2 308.6,630.2 313.7,666.3 324.2,729.4 330.3,696.3 339.3,606.2 342.3,621.2 348.3,609.2 351.3,490.5 355.8,621.2 359.7,573.1 364.8,624.2 367.8,618.2 373.8,648.2 382.8,583.6 387.3,624.2 390.3,606.2 397.9,666.3 405.4,675.3 410.8,625.7 418.9,672.3 423.0,624.2 426.0,648.2 430.5,606.2 441.0,684.3 450.0,618.2 457.6,597.2 463.6,646.7 469.6,597.2 475.6,648.2 481.6,636.2 493.6,610.7 496.6,612.2 501.1,664.8 505.6,622.7 513.1,672.3 523.6,630.2 537.2,609.2 546.2,654.2 552.2,633.2 559.7,604.7 570.2,690.3 575.6,633.2 579.2,693.3 584.6,690.3 589.7,706.8 594.2,660.3 606.3,613.7 612.3,663.3 618.3,601.7 621.3,624.2 626.5,425.5 630.3,648.2 636.3,654.2 645.3,576.1 649.8,624.2 653.7,547.6 658.8,660.3 666.3,559.6 669.4,660.3 673.9,544.6 678.4,657.3 685.9,531.1 690.4,633.2 696.6,519.1 708.0,672.3 712.5,564.1 717.0,646.7 732.1,547.6 738.1,634.7 740.7,480.6 745.0,650.0 749.0,600.0 751.4,375.1 755.0,560.0 759.1,639.2 768.1,556.6 772.6,627.2 777.1,594.2 783.2,469.5 792.1,678.3 795.1,570.1 802.7,567.1 807.2,624.2 811.7,492.0 822.2,595.7 826.7,543.1 834.2,600.2 838.7,606.2 845.2,342.8 848.0,400.0 850.7,480.0 853.1,562.1 856.2,597.4 858.3,609.9 860.4,593.3 862.5,591.2 865.6,587.0 869.8,570.4 872.9,597.4 873.9,657.8 876.0,618.2 879.1,657.8 885.4,711.9 888.5,676.5 892.6,626.6 894.7,614.1 896.2,622.4 901.0,572.5 905.1,597.4 908.2,601.6 912.4,697.3 916.6,609.9 920.7,697.3 924.5,597.4 928.0,655.7 932.2,601.6 936.3,578.7 940.5,676.5 944.8,523.6 947.8,645.3 954.0,637.0 960.3,647.4 963.4,678.6 967.5,597.4 971.7,686.9 975.9,566.2 980.0,647.4 985.2,661.9 989.4,572.5 991.6,535.6 996.1,660.3 1006.6,615.3 1012.6,684.4 1022.5,499.5 1027.6,654.3 1034.5,612.3 1041.2,645.3 1047.2,663.4 1053.8,597.2 1059.2,660.3 1065.2,660.3 1073.6,577.7 1080.2,660.3 1083.2,643.8 1093.8,636.3 1101.3,700.9 1107.3,651.3 1113.3,690.4 1120.2,619.8 1125.3,720.5 1132.2,618.3 1140.3,702.4 1144.9,678.4 1152.4,633.3 1155.4,700.9 1160.8,643.8 1167.4,725.0 1171.9,666.4 1179.4,664.9 1185.4,720.5 1191.4,687.4 1200.5,723.5 1209.5,700.9 1215.5,729.5 1220.9,676.9 1232.0,720.5 1242.5,676.9 1247.0,702.4 1254.0,690.4 1260.6,726.5 1269.6,658.8 1278.0,696.4" fill="none" stroke="#000099" stroke-width="1" stroke-linejoin="round" />
<polyline points="151.5,676.8 154.5,691.8 159.0,694.8 163.5,672.3 171.0,684.3 189.0,711.3 202.6,711.3 210.1,708.3 220.6,720.3 225.1,728.8 246.1,728.8 252.1,729.4 264.2,729.4 273.2,728.8 279.2,717.3 285.2,699.3 292.7,684.3 306.2,676.8 315.2,693.3 321.2,696.3 328.8,718.8 336.3,684.3 342.3,651.2 357.3,621.2 366.3,639.2 375.3,651.2 390.3,642.2 402.4,663.3 411.4,652.7 420.0,657.3 426.0,657.3 432.0,640.7 445.5,667.8 460.6,619.7 469.6,639.2 478.6,648.2 484.6,645.2 493.6,646.7 497.5,642.2 504.1,651.2 508.6,645.2 519.1,652.7 528.2,651.2 537.2,657.3 543.2,657.9 550.7,649.7 561.2,675.3 570.2,687.3 582.2,682.8 591.2,691.8 600.3,682.8 607.8,684.3 612.3,667.8 618.3,658.8 627.3,654.2 636.3,660.3 652.8,618.2 660.3,634.7 664.8,657.3 672.4,595.7 682.9,618.2 693.4,594.2 705.0,606.2 714.0,625.7 720.0,645.2 726.1,663.3 733.6,657.3 738.1,636.2 744.1,597.2 750.1,589.7 754.6,582.1 759.1,570.1 767.5,631.7 775.6,612.2 780.1,627.2 787.6,609.2 796.7,645.2 808.7,610.7 820.7,600.2 834.2,627.2 840.2,613.7 846.2,618.2 853.7,646.7 862.7,600.2 868.8,591.2 873.3,600.2 877.8,648.2 885.3,666.3 892.8,673.8 900.3,645.2 904.8,636.2 919.8,661.8 930.3,646.7 936.3,649.7 943.9,627.2 951.4,637.7 958.9,658.8 967.5,657.3 975.0,642.3 987.1,663.3 994.6,664.0 1006.6,642.3 1014.1,673.9 1020.1,663.3 1030.6,636.3 1036.6,655.8 1045.7,658.8 1053.2,670.9 1057.7,661.8 1065.2,673.9 1077.2,669.4 1081.7,660.3 1090.7,700.9 1101.3,666.4 1110.3,687.4 1116.3,688.9 1125.3,699.4 1137.3,685.9 1146.4,690.4 1152.4,687.4 1158.4,691.9 1164.4,687.4 1171.9,690.4 1189.9,723.5 1197.5,720.5 1205.0,725.0 1211.0,712.9 1221.5,705.4 1232.0,719.0 1242.5,720.5 1248.5,722.9 1253.1,720.5 1260.6,728.0 1268.1,717.5 1277.1,708.4" fill="none" stroke="#000" stroke-width="4" stroke-linejoin="round" />
<polyline points="152.0,287.5 152.5,277.5 160.0,275.0 170.0,263.8 182.5,263.2 187.5,258.8 198.8,258.8 201.2,272.0 213.8,272.5 217.5,283.8 227.5,284.5 232.5,286.8 260.0,287.5 265.0,293.8 277.5,293.8 280.0,291.2 292.5,291.2 297.5,293.2 310.0,295.5 330.0,295.0 342.5,291.2 370.0,292.0 375.0,299.2 387.5,299.2 392.5,293.2 405.0,293.2 407.5,298.0 433.8,298.0 437.5,291.2 450.0,291.2 455.0,286.8 482.5,286.8 490.0,286.0 530.0,280.0 532.5,277.0 560.0,277.0 563.8,273.0 577.5,272.5 582.5,270.0 595.0,268.8 600.0,266.5 670.0,265.5 675.0,260.0 694.0,261.0 730.0,256.2 747.5,256.2 800.0,255.7 814.3,255.7 815.7,254.6 841.4,254.6 842.9,255.7 861.4,255.7 862.9,254.6 874.3,254.6 877.1,252.9 888.6,252.9 891.4,254.6 904.3,254.6 910.0,252.9 920.0,252.9 924.3,248.9 937.1,248.9 941.4,245.7 967.1,245.7 972.5,243.0 997.5,243.8 1005.0,242.0 1052.5,241.2 1077.5,240.5 1082.5,236.2 1095.0,236.2 1107.5,237.5 1115.0,235.0 1140.0,234.5 1145.0,232.0 1187.5,230.5 1191.2,224.5 1205.0,223.2 1208.8,220.8 1235.0,220.8 1238.8,217.0 1252.5,216.2 1255.0,213.8 1270.0,212.5 1272.5,210.5 1277.5,210.5" fill="none" stroke="#00ee00" stroke-width="2" stroke-linejoin="round" />
<polyline points="152.0,278.8 165.0,280.0 180.0,278.0 205.0,278.0 215.0,280.5 275.0,280.0 350.0,281.2 412.5,282.0 475.0,284.5 500.0,284.5 615.0,285.0 715.0,284.5 765.0,282.5 800.0,280.3 832.9,280.3 834.3,278.9 882.9,278.9 884.3,277.9 1027.5,278.8 1115.0,280.0 1190.0,281.2 1277.5,282.5" fill="none" stroke="#804000" stroke-width="3" stroke-linejoin="round" />
<polyline points="152.0,270.5 192.5,270.5 212.5,271.2 275.0,274.5 337.5,278.0 400.0,280.5 462.5,282.0 500.0,282.0 565.0,280.5 635.0,276.2 715.0,274.5 800.0,273.6 810.0,272.1 820.0,272.1 821.4,273.6 905.7,273.6 907.1,274.6 950.0,274.6 951.4,275.7 1000.0,276.4 1052.5,278.8 1127.5,282.5 1190.0,286.2 1215.0,289.2 1277.5,290.5" fill="none" stroke="#ff8000" stroke-width="3" stroke-linejoin="round" />
<polyline points="455.0,310.0 470.0,303.0 485.0,295.0 492.5,286.0 500.0,282.5 519.0,280.0 524.0,273.7 541.8,272.4 552.5,265.0 562.1,261.0 567.5,245.0 569.7,243.7 576.1,253.3 578.6,266.0 585.0,271.1 592.6,263.5 599.0,263.5 602.8,233.0 606.6,222.8 613.0,208.8 618.1,205.0 623.2,202.5 633.3,193.6 641.0,194.8 648.6,203.7 656.2,203.7 666.4,185.9 674.0,202.5 684.2,202.5 694.4,208.8 705.8,211.4 719.8,198.6 730.0,185.2 737.6,187.2 744.0,197.4 752.9,203.7 760.5,203.7 765.6,192.3 780.9,181.6 787.5,182.5 795.0,171.2 802.5,171.2 807.5,178.8 822.5,181.2 832.5,172.5 845.0,170.0 855.0,161.2 860.0,162.5 867.5,170.0 873.8,168.8 880.0,155.0 883.4,150.1 887.4,143.9 892.6,139.3 896.0,144.4 900.6,150.1 905.7,151.3 907.4,150.4 912.0,147.9 916.0,141.0 922.3,138.4 925.7,139.9 929.1,145.0 933.7,140.1 935.4,141.6 940.6,145.6 946.3,147.3 952.6,146.1 957.7,142.1 967.5,132.5 975.0,140.0 987.5,145.0 995.0,141.2 1000.0,148.8 1006.2,156.2 1012.5,151.2 1020.0,152.5 1030.0,171.2 1035.0,165.0 1045.0,172.5 1052.5,175.0 1060.0,181.2 1070.0,186.2 1075.0,190.0 1082.5,201.2 1090.0,196.2 1097.5,212.5 1102.5,220.0 1110.0,247.5 1120.0,277.5 1125.0,285.0" fill="none" stroke="#800080" stroke-width="1.3" stroke-linejoin="round" stroke-dasharray="3,3"/>
<polyline points="152.0,280.0 162.5,282.5 175.0,290.0 200.0,300.0 225.0,307.5 250.0,315.0 287.5,320.5 337.5,322.5 375.0,320.5 412.5,317.5 450.0,311.2 475.0,307.5 500.0,301.2 515.0,297.5 540.0,293.8 565.0,287.5 575.0,286.2 585.0,290.0 597.5,292.5 607.5,280.0 617.5,271.2 630.0,263.8 640.0,258.8 650.0,253.8 665.0,246.2 677.5,250.0 687.5,247.0 705.0,246.2 727.5,240.0 752.5,233.8 765.0,228.8 780.0,226.2 800.0,225.7 824.3,225.0 840.0,226.0 851.4,224.3 864.3,223.6 891.4,223.6 898.6,225.7 922.9,227.9 928.6,231.4 945.7,233.6 951.4,236.4 962.9,239.3 978.6,241.4 1000.0,248.6 1027.5,255.0 1052.5,261.2 1077.5,268.8 1102.5,278.8 1127.5,286.2 1151.2,296.4 1182.4,307.9 1213.6,320.3 1234.4,326.6 1255.2,332.8 1265.7,338.0 1277.1,340.1" fill="none" stroke="#ff0000" stroke-width="3" stroke-linejoin="round" />
<polyline points="152.0,274.2 162.5,277.0 180.0,285.0 200.0,290.0 225.0,295.0 255.0,303.8 275.0,307.5 300.0,305.8 325.0,310.0 350.0,311.8 375.0,311.8 425.0,310.0 450.0,307.5 475.0,305.5 500.0,300.0 515.0,297.5 540.0,293.8 565.0,288.8 575.0,288.0 585.0,291.2 597.5,293.0 610.0,287.5 630.0,282.5 652.5,273.8 677.5,266.2 702.5,261.2 727.5,253.8 752.5,246.2 777.5,237.5 800.0,235.0 814.3,233.6 857.1,235.0 864.3,232.1 885.7,232.6 900.0,234.3 914.3,235.7 935.7,237.1 950.0,239.3 964.3,242.1 978.6,242.9 985.7,248.6 1000.0,254.3 1015.0,261.2 1040.0,267.5 1065.0,273.8 1090.0,280.0 1120.0,289.1 1151.2,299.5 1182.4,308.9 1213.6,317.2 1244.8,322.4 1259.4,330.7 1277.1,331.8" fill="none" stroke="#8000ff" stroke-width="3.5" stroke-linejoin="round" />
<polyline points="152.0,281.0 175.0,292.0 200.0,302.0 250.0,317.0 300.0,322.0 375.0,322.0 450.0,312.0 500.0,303.0 540.0,295.0 575.0,288.0 597.5,294.0 640.0,266.0 665.0,253.8 715.0,247.5 765.0,235.0 800.0,232.0 864.0,230.7 885.7,227.0 900.0,230.7 928.6,235.7 957.0,241.4 1000.0,250.0 1100.0,280.0 1180.0,306.0 1277.0,338.0" fill="none" stroke="#ff0080" stroke-width="1" stroke-linejoin="round" stroke-dasharray="3,3"/>
<rect x="172" y="638" width="16.5" height="92" fill="#00ffff"/>
<rect x="191.5" y="638" width="9" height="92" fill="#00ffff"/>
<rect x="203" y="638" width="5.5" height="92" fill="#00ffff"/>
<rect x="152" y="730" width="1126" height="2" fill="#00ffff"/>
<rect x="370" y="727" width="2" height="14" fill="#f0e000"/>
<rect x="1161" y="727" width="2" height="14" fill="#f0e000"/>
<text x="10.5" y="763.5" fill="#000" font-size="12" text-anchor="start" font-weight="normal" >16:47</text>
<path d="M44 761.5 A4.5 6 0 0 1 53 761.5 Z" fill="#ffff00"/>
<text x="334" y="763.5" fill="#000" font-size="12" text-anchor="start" font-weight="normal" >04:40</text>
<circle cx="371" cy="758" r="3.3" fill="#ffff00"/>
<g stroke="#ffff00" stroke-width="1"><line x1="375.5" y1="758.0" x2="377.5" y2="758.0"/><line x1="374.1832472112524" y1="761.5341259055268" x2="375.5980237495868" y2="762.9477762677376"/><line x1="371.0035834701983" y1="762.9999984146592" x2="371.0051761236198" y2="764.9999977805228"/><line x1="367.82182259830995" y1="761.5397545432421" x2="366.40929930867" y2="762.955656360539"/><line x1="366.5000057072261" y1="758.0079632645825" x2="364.500008243771" y2="758.0111485704155"/><line x1="367.8116910536348" y1="754.4715116966577" x2="366.3946648552502" y2="753.0601163753207"/><line x1="370.9892495984947" y1="753.0000142680614" x2="370.9844716422702" y2="751.000019975286"/><line x1="374.1730995305379" y1="754.4546257977889" x2="375.58336598855476" y2="753.0364761169045"/></g>
<text x="1124.5" y="763.5" fill="#000" font-size="12" text-anchor="start" font-weight="normal" >21:28</text>
<rect x="1159.5" y="754.5" width="5" height="5" fill="none" stroke="#ffff40"/>
<rect x="1" y="772" width="1398" height="93" fill="#cdf9f5"/>
<rect x="108" y="772" width="1" height="93" fill="#fffaf2"/>
<rect x="109" y="772" width="1" height="93" fill="#aa9e8e"/>
<rect x="252" y="772" width="1" height="93" fill="#fffaf2"/>
<rect x="253" y="772" width="1" height="93" fill="#aa9e8e"/>
<rect x="397" y="772" width="1" height="93" fill="#fffaf2"/>
<rect x="398" y="772" width="1" height="93" fill="#aa9e8e"/>
<rect x="542" y="772" width="1" height="93" fill="#fffaf2"/>
<rect x="543" y="772" width="1" height="93" fill="#aa9e8e"/>
<rect x="687" y="772" width="1" height="93" fill="#fffaf2"/>
<rect x="688" y="772" width="1" height="93" fill="#aa9e8e"/>
<rect x="832" y="772" width="1" height="93" fill="#fffaf2"/>
<rect x="833" y="772" width="1" height="93" fill="#aa9e8e"/>
<rect x="978" y="772" width="1" height="93" fill="#fffaf2"/>
<rect x="979" y="772" width="1" height="93" fill="#aa9e8e"/>
<rect x="1123" y="772" width="1" height="93" fill="#fffaf2"/>
<rect x="1124" y="772" width="1" height="93" fill="#aa9e8e"/>
<rect x="1399" y="771" width="1" height="94" fill="#aa9e8e"/>
<text x="10.5" y="793.8" fill="#000" font-size="13.5" text-anchor="start" font-weight="bold" >Sensor</text>
<text x="10.5" y="813.6" fill="#000" font-size="13.5" text-anchor="start" font-weight="bold" >MinWert</text>
<text x="10.5" y="832.8" fill="#000" font-size="13.5" text-anchor="start" font-weight="bold" >MaxWert</text>
<text x="10.5" y="852.6" fill="#000" font-size="13.5" text-anchor="start" font-weight="bold" >Durchschnitt</text>
<text x="10.5" y="872.4" fill="#000" font-size="13.5" text-anchor="start" font-weight="bold" >00:00 - 23:55</text>
<text x="117" y="793.8" fill="#000" font-size="13.5" text-anchor="start" font-weight="bold" >Temp. A.</text>
<text x="244.5" y="793.8" fill="#000" font-size="13.5" text-anchor="end" font-weight="bold" >°C</text>
<text x="123" y="813.6" fill="#000" font-size="12" text-anchor="start" font-weight="normal" >23:55</text>
<text x="244.5" y="813.6" fill="#000" font-size="12" text-anchor="end" font-weight="normal" >15.1</text>
<text x="123" y="832.8" fill="#000" font-size="12" text-anchor="start" font-weight="normal" >15:40</text>
<text x="244.5" y="832.8" fill="#000" font-size="12" text-anchor="end" font-weight="normal" >25.6</text>
<text x="244.5" y="852.6" fill="#000" font-size="12" text-anchor="end" font-weight="normal" >20.55</text>
<text x="244.5" y="872.4" fill="#000" font-size="13.5" text-anchor="end" font-weight="bold" >15.1</text>
<text x="261" y="793.8" fill="#000" font-size="13.5" text-anchor="start" font-weight="bold" >Feuchte A.</text>
<text x="388.5" y="793.8" fill="#000" font-size="13.5" text-anchor="end" font-weight="bold" >%</text>
<text x="267" y="813.6" fill="#000" font-size="12" text-anchor="start" font-weight="normal" >14:35</text>
<text x="388.5" y="813.6" fill="#000" font-size="12" text-anchor="end" font-weight="normal" >30</text>
<text x="267" y="832.8" fill="#000" font-size="12" text-anchor="start" font-weight="normal" >06:40</text>
<text x="388.5" y="832.8" fill="#000" font-size="12" text-anchor="end" font-weight="normal" >94</text>
<text x="388.5" y="852.6" fill="#000" font-size="12" text-anchor="end" font-weight="normal" >63</text>
<text x="267" y="872.4" fill="#000" font-size="12" text-anchor="start" font-weight="normal" >0:00 ... h ^</text>
<text x="388.5" y="872.4" fill="#000" font-size="13.5" text-anchor="end" font-weight="bold" >93</text>
<text x="406" y="793.8" fill="#000" font-size="13.5" text-anchor="start" font-weight="bold" >Luftdruck</text>
<text x="533.5" y="793.8" fill="#000" font-size="13.5" text-anchor="end" font-weight="bold" >hPa</text>
<text x="412" y="813.6" fill="#000" font-size="12" text-anchor="start" font-weight="normal" >05:00</text>
<text x="533.5" y="813.6" fill="#000" font-size="12" text-anchor="end" font-weight="normal" >1013.0</text>
<text x="412" y="832.8" fill="#000" font-size="12" text-anchor="start" font-weight="normal" >23:55</text>
<text x="533.5" y="832.8" fill="#000" font-size="12" text-anchor="end" font-weight="normal" >1019.3</text>
<text x="406" y="852.6" fill="#000" font-size="12" text-anchor="start" font-weight="normal" >^2.1hPa/h</text>
<text x="533.5" y="852.6" fill="#000" font-size="12" text-anchor="end" font-weight="normal" >1015.7</text>
<text x="406" y="872.4" fill="#000" font-size="12" text-anchor="start" font-weight="normal" >leicht bewölkt</text>
<text x="533.5" y="872.4" fill="#000" font-size="13.5" text-anchor="end" font-weight="bold" >1013.0</text>
<text x="551" y="793.8" fill="#000" font-size="13.5" text-anchor="start" font-weight="bold" >Wind</text>
<text x="678.5" y="793.8" fill="#000" font-size="13.5" text-anchor="end" font-weight="bold" >km/h</text>
<text x="551" y="813.6" fill="#000" font-size="12" text-anchor="start" font-weight="normal" >Ø 10 min.</text>
<text x="678.5" y="813.6" fill="#000" font-size="12" text-anchor="end" font-weight="normal" >1.7</text>
<text x="557" y="832.8" fill="#000" font-size="12" text-anchor="start" font-weight="normal" >12:55</text>
<text x="678.5" y="832.8" fill="#000" font-size="12" text-anchor="end" font-weight="normal" >NW 12.1</text>
<text x="557" y="852.6" fill="#000" font-size="12" text-anchor="start" font-weight="normal" >6,6 km</text>
<text x="678.5" y="852.6" fill="#000" font-size="12" text-anchor="end" font-weight="normal" >5.0</text>
<text x="557" y="872.4" fill="#000" font-size="12" text-anchor="start" font-weight="normal" >1 Bft SW</text>
<text x="678.5" y="872.4" fill="#000" font-size="13.5" text-anchor="end" font-weight="bold" >1.0</text>
<text x="696" y="793.8" fill="#000" font-size="13.5" text-anchor="start" font-weight="bold" >Richtung</text>
<text x="702" y="813.6" fill="#000" font-size="12" text-anchor="start" font-weight="normal" >18:30</text>
<text x="823.5" y="813.6" fill="#000" font-size="12" text-anchor="end" font-weight="normal" >N-NO</text>
<text x="702" y="832.8" fill="#000" font-size="12" text-anchor="start" font-weight="normal" >23:50</text>
<text x="823.5" y="832.8" fill="#000" font-size="12" text-anchor="end" font-weight="normal" >N</text>
<text x="823.5" y="852.6" fill="#000" font-size="12" text-anchor="end" font-weight="normal" >SW</text>
<text x="702" y="872.4" fill="#000" font-size="12" text-anchor="start" font-weight="normal" >225°</text>
<text x="823.5" y="872.4" fill="#000" font-size="13.5" text-anchor="end" font-weight="bold" >SW</text>
<text x="841" y="793.8" fill="#000" font-size="13.5" text-anchor="start" font-weight="bold" >Regen</text>
<text x="968.5" y="793.8" fill="#000" font-size="13.5" text-anchor="end" font-weight="bold" >l/m²</text>
<text x="847" y="832.8" fill="#000" font-size="12" text-anchor="start" font-weight="normal" >01:10</text>
<text x="968.5" y="832.8" fill="#000" font-size="12" text-anchor="end" font-weight="normal" >0.7</text>
<text x="841" y="852.6" fill="#000" font-size="12" text-anchor="start" font-weight="normal" >Gesamt:</text>
<text x="968.5" y="852.6" fill="#000" font-size="12" text-anchor="end" font-weight="normal" >4.8</text>
<text x="847" y="872.4" fill="#000" font-size="12" text-anchor="start" font-weight="normal" >1.0 Hr</text>
<text x="968.5" y="872.4" fill="#000" font-size="13.5" text-anchor="end" font-weight="bold" >0.0</text>
<text x="987" y="793.8" fill="#000" font-size="13.5" text-anchor="start" font-weight="bold" >Temp.+5cm</text>
<text x="1114.5" y="793.8" fill="#000" font-size="13.5" text-anchor="end" font-weight="bold" >°C</text>
<text x="993" y="813.6" fill="#000" font-size="12" text-anchor="start" font-weight="normal" >23:55</text>
<text x="1114.5" y="813.6" fill="#000" font-size="12" text-anchor="end" font-weight="normal" >15.8</text>
<text x="993" y="832.8" fill="#000" font-size="12" text-anchor="start" font-weight="normal" >15:35</text>
<text x="1114.5" y="832.8" fill="#000" font-size="12" text-anchor="end" font-weight="normal" >24.8</text>
<text x="1114.5" y="852.6" fill="#000" font-size="12" text-anchor="end" font-weight="normal" >20.40</text>
<text x="1114.5" y="872.4" fill="#000" font-size="13.5" text-anchor="end" font-weight="bold" >15.8</text>
<text x="1132" y="793.8" fill="#000" font-size="13.5" text-anchor="start" font-weight="bold" >PMV+1:12</text>
<text x="1132" y="813.6" fill="#000" font-size="12" text-anchor="start" font-weight="normal" >WC 15.1 °C</text>
<text x="1132" y="832.8" fill="#000" font-size="12" text-anchor="start" font-weight="normal" >TP 7.9 °C</text>
<text x="1132" y="852.6" fill="#000" font-size="12" text-anchor="start" font-weight="normal" >1.7hPa/3h</text>
<text x="1132" y="872.4" fill="#000" font-size="12" text-anchor="start" font-weight="normal" >0.7hPa/1h</text>
</svg></body></html>
